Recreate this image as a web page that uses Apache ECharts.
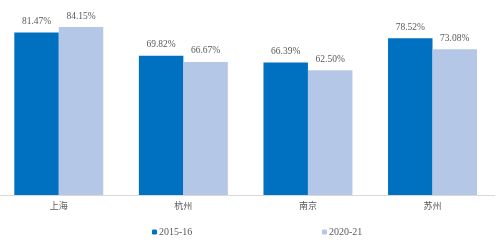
<!DOCTYPE html>
<html><head><meta charset="utf-8">
<script src="https://cdn.jsdelivr.net/npm/echarts@6/dist/echarts.min.js"></script>
<style>html,body{margin:0;padding:0;background:#fff;overflow:hidden;width:500px;height:244px;position:relative}#c{position:absolute;left:-4px;top:0;width:504px;height:244px}</style>
</head><body><div id="c"></div>
<script>
const categories = ['上海', '杭州', '南京', '苏州'];
const series2015 = [81.47, 69.82, 66.39, 78.52];
const series2020 = [84.15, 66.67, 62.50, 73.08];
const seriesNames = ['2015-16', '2020-21'];

const chart = echarts.init(document.getElementById('c'));
const labelStyle = {
  show: true, position: 'top', distance: 6,
  fontFamily: 'Liberation Serif', fontSize: 9.5, color: '#595959',
  formatter: p => p.value.toFixed(2) + '%'
};
const legendText = { fontFamily: 'Liberation Serif', fontSize: 10, color: '#595959', padding: [0,0,0,-3] };
chart.setOption({
  animation: false,
  grid: { left: 0.5, right: 5.2, top: 0, bottom: 49, containLabel: false },
  legend: [
    { data: [seriesNames[0]], left: 151, top: 222, itemWidth: 5, itemHeight: 5, itemGap: 0, textStyle: legendText },
    { data: [seriesNames[1]], left: 321, top: 222, itemWidth: 5, itemHeight: 5, itemGap: 0, textStyle: legendText }
  ],
  xAxis: {
    type: 'category', data: categories,
    axisLine: { lineStyle: { color: '#D9D9D9', width: 1 } },
    axisTick: { show: false },
    axisLabel: { fontFamily: 'Noto Sans CJK SC', fontSize: 9, color: '#595959', margin: 6 }
  },
  yAxis: { type: 'value', min: 0, max: 97.7, show: false, splitLine: { show: false } },
  series: [
    { name: seriesNames[0], type: 'bar', data: series2015, barGap: '0%', barCategoryGap: '28.6%',
      itemStyle: { color: '#0070C0' }, label: labelStyle },
    { name: seriesNames[1], type: 'bar', data: series2020,
      itemStyle: { color: '#B4C7E7' }, label: labelStyle }
  ]
});
</script></body></html>
